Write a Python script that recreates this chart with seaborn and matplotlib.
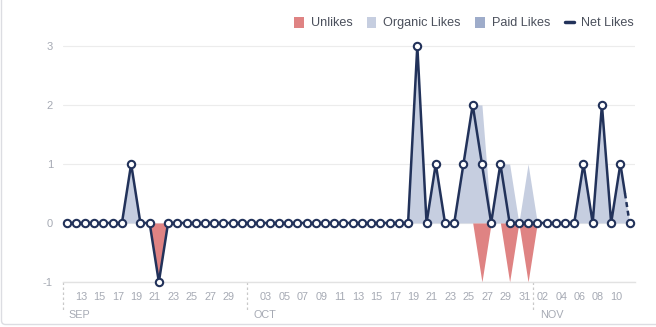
import matplotlib
matplotlib.use("Agg")
import matplotlib.pyplot as plt
import matplotlib.transforms as mtransforms
import matplotlib.dates as mdates
from matplotlib.patches import Patch, FancyBboxPatch
from matplotlib.lines import Line2D
import seaborn as sns
import pandas as pd
import numpy as np

# ---------------- data ----------------
dates = pd.date_range("2019-09-11 10:00", "2019-11-11 10:00", freq="D")

organic_likes = [0, 0, 0, 0, 0, 0, 0, 1, 0, 0,          # Sep 11-20
                 0, 0, 0, 0, 0, 0, 0, 0, 0, 0,          # Sep 21-30
                 0, 0, 0, 0, 0, 0, 0, 0, 0, 0,          # Oct 1-10
                 0, 0, 0, 0, 0, 0, 0, 0, 3, 0,          # Oct 11-20
                 1, 0, 0, 1, 2, 2, 0, 1, 1, 0, 1,       # Oct 21-31
                 0, 0, 0, 0, 0, 1, 0, 2, 0, 1, 0]       # Nov 1-11
paid_likes = [0] * 62
unlikes = [0, 0, 0, 0, 0, 0, 0, 0, 0, 0,
           1, 0, 0, 0, 0, 0, 0, 0, 0, 0,
           0, 0, 0, 0, 0, 0, 0, 0, 0, 0,
           0, 0, 0, 0, 0, 0, 0, 0, 0, 0,
           0, 0, 0, 0, 0, 1, 0, 0, 1, 0, 1,
           0, 0, 0, 0, 0, 0, 0, 0, 0, 0, 0]

tick_dates = pd.date_range("2019-09-11", "2019-11-12", freq="2D")
tick_labels = ["", "13", "15", "17", "19", "21", "23", "25", "27", "29",
               "", "03", "05", "07", "09", "11", "13", "15", "17", "19",
               "21", "23", "25", "27", "29", "31",
               "02", "04", "06", "08", "10", ""]
month_names = ["SEP", "OCT", "NOV"]
month_starts = pd.to_datetime(["2019-09-11", "2019-10-01", "2019-11-01"])
y_ticks = [-1, 0, 1, 2, 3]

organic = np.array(organic_likes, dtype=float)
paid = np.array(paid_likes, dtype=float)
unl = np.array(unlikes, dtype=float)
net = organic + paid - unl

df = pd.DataFrame({"date": dates, "net": net})

# ---------------- style ----------------
sns.set_style("white")
plt.rcParams["font.family"] = ["Liberation Sans", "DejaVu Sans"]

C_UNLIKE = "#df8383"
C_ORGANIC = "#c6cee0"
C_PAID = "#9eacca"
C_NET = "#22325a"
C_TICK = "#a6aab4"

fig = plt.figure(figsize=(6.56, 3.27), dpi=100)
W, H = 656, 327
ax = fig.add_axes([62.7 / W, 1 - 282 / H, (635 - 62.7) / W, (282 - 37) / H])

# fills
ax.fill_between(df["date"], 0, organic, color=C_ORGANIC, lw=0, zorder=1)
ax.fill_between(df["date"], organic, organic + paid, color=C_PAID, lw=0, zorder=1)
ax.fill_between(df["date"], 0, -unl, color=C_UNLIKE, lw=0, zorder=1)

# net line: solid, last segment half dashed
sns.lineplot(data=df.iloc[:-1], x="date", y="net", color=C_NET, lw=1.8,
             ax=ax, zorder=3)
x_a, x_b = dates[-2], dates[-1]
y_a, y_b = net[-2], net[-1]
x_m = x_a + (x_b - x_a) / 2
y_m = (y_a + y_b) / 2
ax.plot([x_a, x_m], [y_a, y_m], color=C_NET, lw=1.8, zorder=3)
ax.plot([x_m, x_b], [y_m, y_b], color=C_NET, lw=1.8, dashes=(2, 1.5), zorder=3)

sns.scatterplot(data=df, x="date", y="net", s=28, color="white",
                edgecolor=C_NET, linewidth=1.5, ax=ax, zorder=5, clip_on=False)

# axes
ax.set_xlim(pd.Timestamp("2019-09-11"), pd.Timestamp("2019-11-12"))
ax.set_ylim(-1, 3.15)
ax.set_yticks(y_ticks)
ax.set_yticklabels([str(v) for v in y_ticks])
ax.set_xticks(tick_dates)
ax.set_xticklabels(tick_labels)
ax.set_xlabel("")
ax.set_ylabel("")
ax.yaxis.grid(True, color="#ececec", lw=0.8)
ax.set_axisbelow(True)
for s in ["left", "top", "right"]:
    ax.spines[s].set_visible(False)
ax.spines["bottom"].set_color("#e2e2e2")
ax.spines["bottom"].set_linewidth(1)
ax.tick_params(axis="x", length=3, width=0.8, color="#d6d6d6",
               labelcolor=C_TICK, labelsize=7.8, pad=4.5)
ax.tick_params(axis="y", length=0, labelcolor=C_TICK, labelsize=8, pad=7)

trans = mtransforms.blended_transform_factory(ax.transData, ax.transAxes)
for name, start in zip(month_names, month_starts):
    xs = mdates.date2num(start)
    ax.plot([xs, xs], [0, -0.115], transform=trans, color="#c9c9c9",
            lw=0.9, dashes=(2, 2), clip_on=False, zorder=2)
    ax.annotate(name, xy=(xs, 0), xycoords=trans, xytext=(4.5, -23.5),
                textcoords="offset points", ha="left", va="center",
                fontsize=7.8, color=C_TICK)

# legend
handles = [Patch(facecolor=C_UNLIKE, edgecolor="none"),
           Patch(facecolor=C_ORGANIC, edgecolor="none"),
           Patch(facecolor=C_PAID, edgecolor="none"),
           Line2D([], [], color=C_NET, lw=2.5)]
labels = ["Unlikes", "Organic Likes", "Paid Likes", "Net Likes"]
leg = fig.legend(handles, labels, loc="center right",
                 bbox_to_anchor=(634 / W, 1 - 23 / H), ncol=4, frameon=False,
                 fontsize=9.1, handlelength=0.75, handleheight=1.0,
                 handletextpad=0.55, columnspacing=1.15, borderpad=0,
                 borderaxespad=0)
for t in leg.get_texts():
    t.set_color("#4b505c")

# card border
card = FancyBboxPatch((1.5, 2.5), 800, 500,
                      boxstyle="round,pad=0,rounding_size=4",
                      transform=mtransforms.IdentityTransform(),
                      fill=False, edgecolor="#dcdde2", lw=1)
fig.patches.append(card)

fig.savefig("out.png", dpi=100)
